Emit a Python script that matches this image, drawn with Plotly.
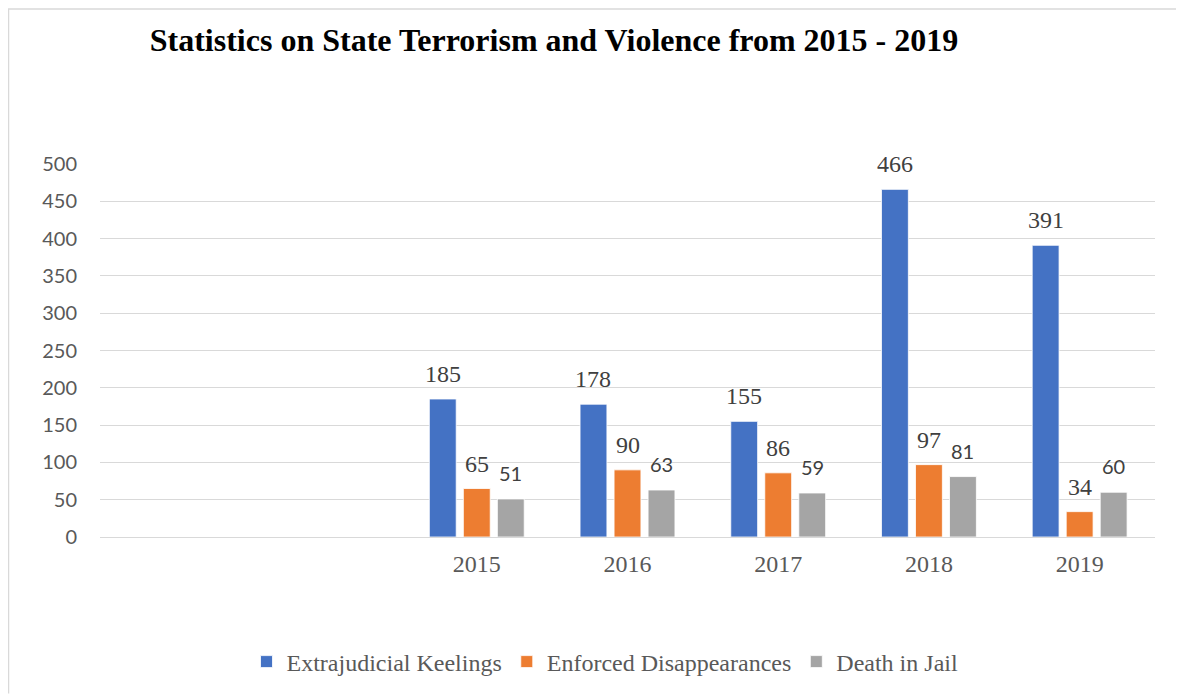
import plotly.graph_objects as go

years = ["2015", "2016", "2017", "2018", "2019"]
extrajudicial = [185, 178, 155, 466, 391]
disappearances = [65, 90, 86, 97, 34]
death_in_jail = [51, 63, 59, 81, 60]
series_names = ["Extrajudicial Keelings", "Enforced Disappearances", "Death in Jail"]
colors = ["#4472C4", "#ED7D31", "#A5A5A5"]
y_ticks = [0, 50, 100, 150, 200, 250, 300, 350, 400, 450, 500]

serif = "Liberation Serif, Times New Roman, serif"
sans = "Lato, Carlito, Calibri, sans-serif"

# page offset of the plot div (body margin)
OFF = 8
W, H = 1184 - OFF, 695 - OFF
# target plot area in page pixels
PX0, PX1, PY0, PY1 = 100, 1155, 164, 538
L, R = PX0 - OFF, OFF + W - PX1
T, B = PY0 - OFF, OFF + H - PY1
pw, ph = W - L - R, H - T - B

def px_to_paper_x(px):
    return (px - PX0) / pw

def px_to_paper_y(py):
    return (PY1 - py) / ph

BARGAP, BARGROUPGAP = 0.323, 0.21
N_SLOTS = 7  # axis range spans 7 category widths
slot_px = pw / N_SLOTS * (1 - BARGAP) / 3

fig = go.Figure()
all_series = [extrajudicial, disappearances, death_in_jail]
label_fonts = [serif, serif, sans]
label_sizes = [24, 24, 20]
label_shift = [10, 10, 12]
annotations = []
for i, (name, vals, col) in enumerate(zip(series_names, all_series, colors)):
    fig.add_trace(go.Bar(
        x=years, y=vals, name=name,
        marker=dict(color=col, line=dict(color="white", width=0.8)),
    ))
    for j, v in enumerate(vals):
        annotations.append(dict(
            x=j, y=v, xref="x", yref="y", text=str(v), showarrow=False,
            xanchor="center", yanchor="bottom",
            xshift=(i - 1) * slot_px, yshift=label_shift[i],
            font=dict(family=label_fonts[i], size=label_sizes[i], color="#404040"),
        ))

fig.update_layout(
    width=W, height=H,
    margin=dict(l=L, r=R, t=T, b=B),
    paper_bgcolor="white", plot_bgcolor="white",
    barmode="group", bargap=BARGAP, bargroupgap=BARGROUPGAP,
    title=dict(text="<b>Statistics on State Terrorism and Violence from 2015 - 2019</b>",
               x=(554 - OFF) / W, xref="container", xanchor="center",
               y=1 - (40 - OFF) / H, yref="container", yanchor="middle",
               font=dict(family=serif, size=32, color="black")),
    xaxis=dict(type="category", categoryorder="array", categoryarray=years,
               range=[-2.5, 4.5], showgrid=False, showline=False,
               ticks="", tickfont=dict(family=serif, size=24, color="#595959"),
               ticklabelstandoff=10),
    yaxis=dict(range=[0, 500], tickvals=y_ticks, showgrid=True, gridcolor="#D9D9D9",
               gridwidth=1.3, zeroline=True, zerolinecolor="#D9D9D9", zerolinewidth=1.3,
               showline=False, ticks="", ticklabelstandoff=22,
               tickfont=dict(family=sans, size=20, color="#595959")),
    legend=dict(orientation="h", x=px_to_paper_x(605), xanchor="center",
                y=px_to_paper_y(662), yanchor="middle",
                font=dict(family=serif, size=24, color="#595959"),
                itemwidth=30, traceorder="normal"),
    showlegend=True,
    annotations=annotations,
    shapes=[
        dict(type="line", xref="paper", yref="paper",
             x0=px_to_paper_x(OFF - 1), x1=px_to_paper_x(1184),
             y0=px_to_paper_y(OFF + 0.5), y1=px_to_paper_y(OFF + 0.5),
             line=dict(color="#D9D9D9", width=1.5)),
        dict(type="line", xref="paper", yref="paper",
             x0=px_to_paper_x(OFF + 0.5), x1=px_to_paper_x(OFF + 0.5),
             y0=px_to_paper_y(OFF + 0.5), y1=px_to_paper_y(695),
             line=dict(color="#D9D9D9", width=1.5)),
    ],
)

fig.write_html("out.html")
